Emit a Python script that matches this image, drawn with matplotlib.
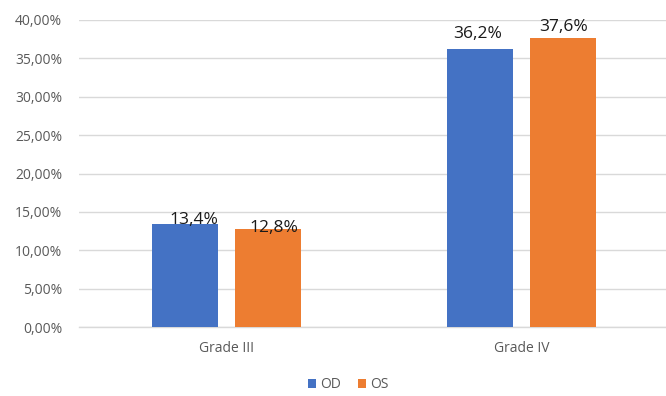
import matplotlib.pyplot as plt
import numpy as np
from matplotlib.ticker import FuncFormatter

categories = ['Grade III', 'Grade IV']
od = [13.4, 36.2]
os_ = [12.8, 37.6]
series_names = ['OD', 'OS']

plt.rcParams['font.family'] = ['Open Sans', 'DejaVu Sans']

fig = plt.figure(figsize=(6.66, 3.96), dpi=100)
ax = fig.add_axes([0.1186, 0.1742, 0.886, 0.7753])

x = np.arange(len(categories))
w = 0.225
off = 0.1415
b1 = ax.bar(x - off, od, w, color='#4472C4', label=series_names[0], zorder=3)
b2 = ax.bar(x + off, os_, w, color='#ED7D31', label=series_names[1], zorder=3)

# data labels were nudged by hand in the original, offsets in points
label_dx = [[6.5, 4.3], [-1.4, 0]]
label_dy = [[0, -2.2], [7.9, 5]]
for i, bars in enumerate([b1, b2]):
    for j, b in enumerate(bars):
        v = b.get_height()
        ax.annotate(f'{v:.1f}%'.replace('.', ','), (b.get_x() + b.get_width() / 2, v),
                    xytext=(label_dx[j][i], label_dy[j][i]), textcoords='offset points',
                    ha='center', va='baseline', fontsize=12.5, color='#1a1a1a', zorder=4)

ax.set_xlim(-0.5, 1.5)
ax.set_ylim(0, 40)
ax.set_yticks(np.arange(0, 41, 5))
ax.yaxis.set_major_formatter(FuncFormatter(lambda v, p: f'{v:.2f}%'.replace('.', ',')))
ax.set_xticks(x)
ax.set_xticklabels(categories)
ax.tick_params(axis='both', length=0, labelsize=10, labelcolor='#595959')
ax.tick_params(axis='y', pad=12)
ax.tick_params(axis='x', pad=10)
ax.grid(axis='y', color='#d9d9d9', linewidth=1, zorder=0)
ax.axhline(0, color='#d9d9d9', linewidth=1, zorder=2, clip_on=False)
for s in ax.spines.values():
    s.set_visible(False)

fig.legend(loc='center', bbox_to_anchor=(0.523, 0.028), ncol=2, frameon=False,
           fontsize=10, handlelength=0.6, handleheight=0.6, handletextpad=0.3,
           columnspacing=1.2, labelcolor='#595959')

fig.savefig('out.png', dpi=100)
